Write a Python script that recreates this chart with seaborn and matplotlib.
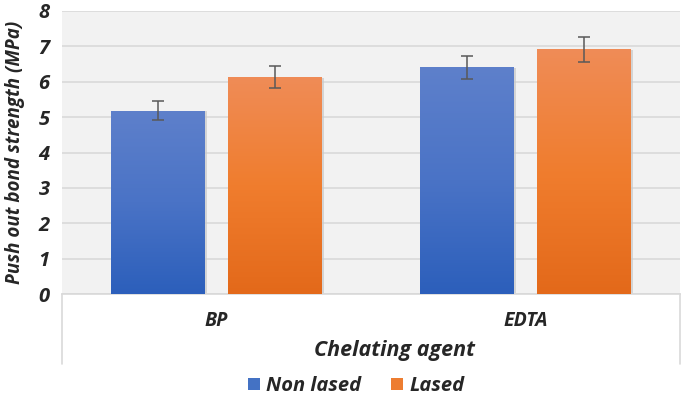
import numpy as np
import pandas as pd
import seaborn as sns
import matplotlib.pyplot as plt
from matplotlib.patches import Patch
from matplotlib.lines import Line2D
from matplotlib.colors import LinearSegmentedColormap

agents = ['BP', 'EDTA']
groups = ['Non lased', 'Lased']
non_lased = [5.18, 6.41]
lased = [6.14, 6.92]
non_lased_sd = [0.27, 0.32]
lased_sd = [0.31, 0.35]

data = pd.DataFrame({
    'agent': agents * 2,
    'group': [groups[0]] * 2 + [groups[1]] * 2,
    'value': non_lased + lased,
    'sd': non_lased_sd + lased_sd,
})

sns.set_style('white')
FONT = ['Open Sans', 'DejaVu Sans']
plt.rcParams['font.family'] = FONT
plt.rcParams['font.weight'] = 'bold'
plt.rcParams['font.style'] = 'italic'

fig = plt.figure(figsize=(6.85, 4.0), dpi=100)
ax = fig.add_axes([62 / 685, 1 - 294 / 400, 618 / 685, 283 / 400])
ax.set_facecolor('#F2F2F2')

ax = sns.barplot(data=data, x='agent', y='value', hue='group', order=agents,
                 hue_order=groups, errorbar=None, width=0.76, gap=0.2,
                 palette=['#4472C4', '#ED7D31'], ax=ax, legend=False, zorder=3)

# gradient fills like the Excel original
grads = {
    'Non lased': LinearSegmentedColormap.from_list('b', ['#2C5FBB', '#4A73C6', '#5E80CB']),
    'Lased': LinearSegmentedColormap.from_list('o', ['#E3691A', '#F07D2E', '#EF8C57']),
}
g = np.linspace(0, 1, 256).reshape(-1, 1)
bars = ax.patches
for i, p in enumerate(bars):
    grp = groups[i // len(agents)]
    x0, y0 = p.get_x(), p.get_y()
    w, h = p.get_width(), p.get_height()
    # soft shadow
    ax.add_patch(plt.Rectangle((x0 + 0.006, y0), w, h - 0.02, facecolor='#C8C8C8',
                               edgecolor='none', zorder=2.5, alpha=0.7))
    im = ax.imshow(g, extent=[x0, x0 + w, y0, y0 + h], origin='lower', aspect='auto',
                   cmap=grads[grp], zorder=3.2)
    im.set_clip_path(p)
    p.set_facecolor('none')
    p.set_edgecolor('none')
    ax.errorbar(x0 + w / 2, h, yerr=data['sd'].iloc[i], fmt='none', ecolor='#595959',
                elinewidth=1.1, capsize=4.5, capthick=1.1, zorder=4)

ax.set_xlim(-0.5, 1.5)
ax.set_ylim(0, 8)
ax.set_yticks(range(0, 9))
ax.yaxis.grid(True, color='#D9D9D9', linewidth=1.2, zorder=0)
ax.set_axisbelow(True)
for s in ['top', 'right', 'left']:
    ax.spines[s].set_visible(False)
ax.spines['bottom'].set_color('#D9D9D9')
ax.spines['bottom'].set_linewidth(1.2)

ax.tick_params(axis='y', length=0, labelsize=14.5, pad=9)
ax.tick_params(axis='x', length=0, labelsize=14, pad=12)
for t in ax.get_xticklabels() + ax.get_yticklabels():
    t.set_fontweight('bold')
    t.set_fontstyle('italic')

ax.set_xlabel('Chelating agent', fontsize=15.5, fontweight='bold', fontstyle='italic')
ax.xaxis.set_label_coords(333 / 618, -46 / 283)
ax.set_ylabel('Push out bond strength (MPa)', fontsize=13.5, fontweight='bold',
              fontstyle='italic')
ax.yaxis.set_label_coords(-37 / 618, 0.5)

# category axis box below plot
for xx in [62 / 685, 680 / 685]:
    fig.add_artist(Line2D([xx, xx], [1 - 294 / 400, 1 - 364 / 400],
                          color='#D9D9D9', linewidth=1.2))

handles = [Patch(facecolor='#4472C4', edgecolor='none'),
           Patch(facecolor='#ED7D31', edgecolor='none')]
fig.legend(handles, groups, loc='center', bbox_to_anchor=(356 / 685, 1 - 386 / 400), ncol=2,
           frameon=False, prop={'family': FONT, 'weight': 'bold', 'style': 'italic', 'size': 14.5},
           handlelength=0.6, handleheight=0.6, handletextpad=0.3, columnspacing=1.5)

fig.savefig('out.png', dpi=100)
